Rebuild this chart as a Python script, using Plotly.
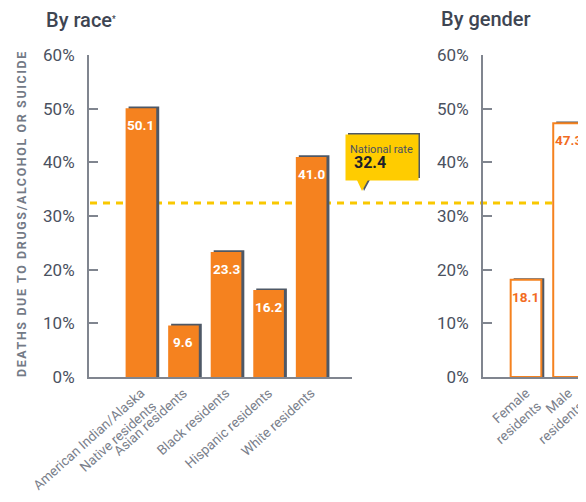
import plotly.graph_objects as go

# data
race_labels = ["American Indian/Alaska<br>Native residents", "Asian residents",
               "Black residents", "Hispanic residents", "White residents"]
race_values = [50.1, 9.6, 23.3, 16.2, 41.0]
gender_labels = ["Female<br>residents", "Male<br>residents"]
gender_values = [18.1, 47.3]
national_rate = 32.4
y_ticks = [0, 10, 20, 30, 40, 50, 60]
y_tick_text = [f"{t}%" for t in y_ticks]

# page body has an 8px margin, so the figure starts at (8, 8)
OFF = 8
W, H = 586 - OFF, 502 - 2 * OFF
ORANGE = "#F5821F"
ORANGE_TXT = "#F26B21"
SHADOW = "#4E5866"
AXIS = "#80858F"
TICK_TXT = "#4A5160"
LABEL_TXT = "#7A808B"
YELLOW = "#FFCC00"
FONT = "Roboto"

BAR_W = 0.72
SH_DX = 0.07   # shadow shift right (category units)
SH_DY = 0.3    # shadow shift up (% units)


def px(x):
    return (x - OFF) / W


def py(y):
    return 1 - (y - OFF) / H


fig = go.Figure()

# left panel: by race
fig.add_trace(go.Bar(
    x=race_labels, y=[v + SH_DY for v in race_values],
    width=BAR_W, offset=-BAR_W / 2 + SH_DX,
    marker=dict(color=SHADOW, line=dict(width=0)),
    xaxis="x", yaxis="y", hoverinfo="skip", showlegend=False
))
fig.add_trace(go.Bar(
    x=race_labels, y=race_values,
    width=BAR_W, offset=-BAR_W / 2,
    marker=dict(color=ORANGE, line=dict(width=0)),
    xaxis="x", yaxis="y", showlegend=False, name="By race"
))

# right panel: by gender
fig.add_trace(go.Bar(
    x=gender_labels, y=[v + SH_DY for v in gender_values],
    width=BAR_W, offset=-BAR_W / 2 + SH_DX,
    marker=dict(color=SHADOW, line=dict(width=0)),
    xaxis="x2", yaxis="y2", hoverinfo="skip", showlegend=False
))
fig.add_trace(go.Bar(
    x=gender_labels, y=gender_values,
    width=BAR_W, offset=-BAR_W / 2,
    marker=dict(color="white", line=dict(color=ORANGE, width=2)),
    xaxis="x2", yaxis="y2", showlegend=False, name="By gender"
))

annotations = []
for lab, v in zip(race_labels, race_values):
    annotations.append(dict(
        x=lab, y=v, xref="x", yref="y", text=f"<b>{v:.1f}</b>",
        showarrow=False, yanchor="top", yshift=-7,
        font=dict(family=FONT, size=13.5, color="white")
    ))
for lab, v in zip(gender_labels, gender_values):
    annotations.append(dict(
        x=lab, y=v, xref="x2", yref="y2", text=f"<b>{v:.1f}</b>",
        showarrow=False, yanchor="top", yshift=-7,
        font=dict(family=FONT, size=13.5, color=ORANGE_TXT)
    ))

# titles
annotations.append(dict(
    x=px(44), y=py(20), xref="paper", yref="paper", xanchor="left", yanchor="middle",
    text="By race<span style='font-size:12px'><sup>*</sup></span>", showarrow=False,
    font=dict(family=FONT, size=20, color="#3E4552", weight=500)
))
annotations.append(dict(
    x=px(439), y=py(19), xref="paper", yref="paper", xanchor="left", yanchor="middle",
    text="By gender", showarrow=False,
    font=dict(family=FONT, size=20, color="#3E4552", weight=500)
))
# y axis title
annotations.append(dict(
    x=px(22), y=py(214), xref="paper", yref="paper", xanchor="center", yanchor="middle",
    textangle=-90, showarrow=False,
    text="<span style='letter-spacing:1.6px'><b>DEATHS DUE TO DRUGS/ALCOHOL OR SUICIDE</b></span>",
    font=dict(family=FONT, size=12.5, color="#737A86")
))
# national rate callout
annotations.append(dict(
    x=px(345), y=py(134), xref="paper", yref="paper", xanchor="left", yanchor="top",
    width=64, height=37, borderpad=4, align="left", valign="middle",
    bgcolor=YELLOW, showarrow=False,
    text=(f"<span style='font-size:11px;color:#4A5160'>National rate</span><br>"
          f"<span style='font-size:16px;color:#1C1F2B'><b> {national_rate}</b></span>"),
    font=dict(family=FONT, size=11, color="#4A5160")
))

shapes = [
    # dashed national rate line, behind bars
    dict(type="line", xref="paper", yref="y", x0=px(90), x1=1.0,
         y0=national_rate, y1=national_rate, layer="below",
         line=dict(color="#F9C800", width=3, dash="7px,6px")),
    # callout shadow
    dict(type="rect", xref="paper", yref="paper",
         x0=px(348), x1=px(420), y0=py(178), y1=py(133),
         fillcolor=SHADOW, line=dict(width=0), layer="above"),
    dict(type="path", xref="paper", yref="paper", layer="above",
         path=f"M {px(360)} {py(178)} L {px(371)} {py(178)} L {px(364)} {py(191)} Z",
         fillcolor=SHADOW, line=dict(width=0)),
    dict(type="path", xref="paper", yref="paper", layer="above",
         path=f"M {px(356)} {py(178)} L {px(369)} {py(178)} L {px(362)} {py(191)} Z",
         fillcolor=YELLOW, line=dict(width=0)),
]

yaxis_common = dict(
    range=[0, 60], tickvals=y_ticks, ticktext=y_tick_text,
    showline=True, linecolor=AXIS, linewidth=2,
    ticks="inside", ticklen=9, tickwidth=2, tickcolor=AXIS,
    ticklabelstandoff=9, showgrid=False, zeroline=False, automargin=False,
    tickfont=dict(family=FONT, size=17, color=TICK_TXT),
    domain=[py(377), py(55)], fixedrange=True
)
xaxis_common = dict(
    type="category", showline=True, linecolor=AXIS, linewidth=2,
    ticks="", showgrid=False, zeroline=False, tickangle=-42,
    ticklabelstandoff=1, automargin=False,
    tickfont=dict(family=FONT, size=13.5, color=LABEL_TXT), fixedrange=True
)

fig.update_layout(
    width=W, height=H,
    margin=dict(l=0, r=0, t=0, b=0, autoexpand=False),
    paper_bgcolor="white", plot_bgcolor="white",
    barmode="overlay",
    xaxis=dict(xaxis_common, domain=[px(89), px(352)], range=[-1.22, 4.96], anchor="y"),
    xaxis2=dict(xaxis_common, domain=[px(483), 1.0], range=[-1.01, 1.41], anchor="y2"),
    yaxis=dict(yaxis_common, anchor="x"),
    yaxis2=dict(yaxis_common, anchor="x2"),
    annotations=annotations,
    shapes=shapes,
)

fig.write_html("out.html")
